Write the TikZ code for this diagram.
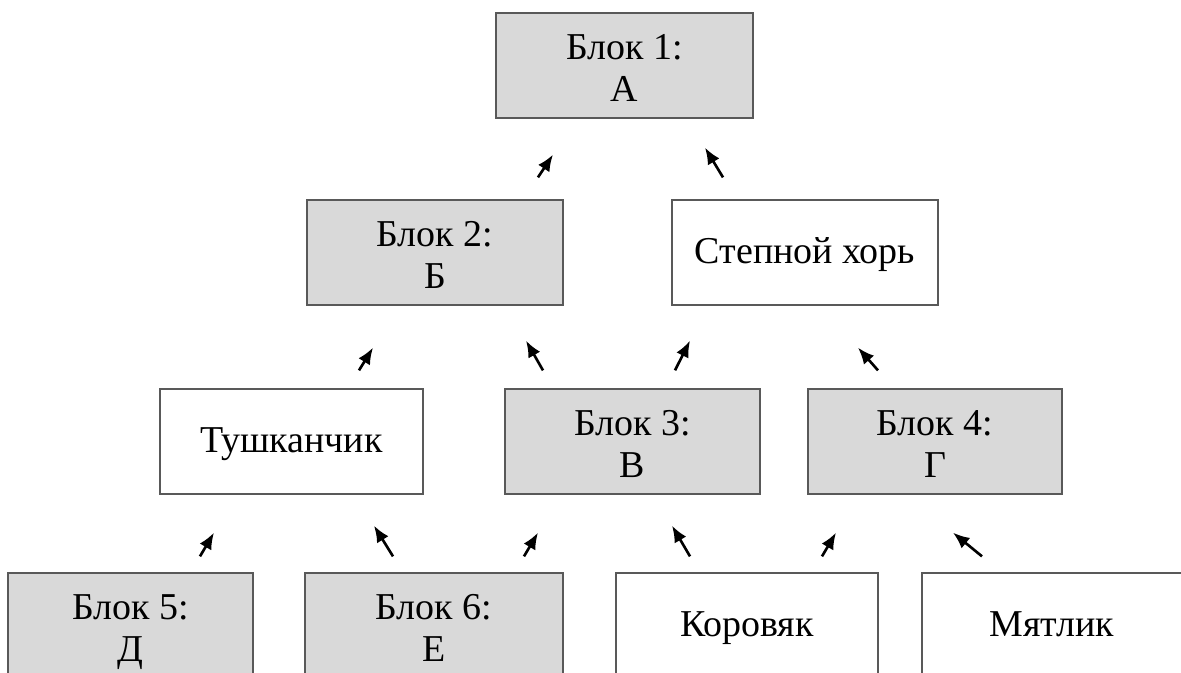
\documentclass[tikz,border=0pt]{standalone}
\usepackage{fontspec}
\setmainfont{Liberation Serif}
\usepackage{tikz}
\usetikzlibrary{arrows.meta,positioning}

\begin{document}
\begin{tikzpicture}[x=0.02cm, y=-0.02cm,
        box/.style={draw=black!65, line width=0.75pt, rectangle, minimum height=2.1cm, inner sep=0pt, align=center, font=\fontsize{21.6}{24}\selectfont},
        block/.style={box, fill=black!15, execute at begin node={\rule[-5pt]{0pt}{51.4pt}}},
        organism/.style={box, fill=white, execute at begin node={\rule[-5pt]{0pt}{23pt}}},
        arr/.style={line width=1.5pt, -{Latex[length=0.33cm, width=0.27cm]}}]
        \useasboundingbox (0,0) rectangle (1181,673);
        \clip (0,0) rectangle (1181,673);

        % Top level
        \node[block, minimum width=5.14cm] at (624.5,65.5) (b1) {Блок 1:\\А};

        % Second level
        \node[block, minimum width=5.12cm] at (435,252.5) (b2) {Блок 2:\\Б};
        \node[organism, minimum width=5.32cm] at (805,252.5) (khor) {Степной хорь};

        % Third level
        \node[organism, minimum width=5.26cm] at (291.5,441.5) (tush) {Тушканчик};
        \node[block, minimum width=5.1cm] at (632.5,441.5) (b3) {Блок 3:\\В};
        \node[block, minimum width=5.08cm] at (935,441.5) (b4) {Блок 4:\\Г};

        % Bottom level
        \node[block, minimum width=4.9cm] at (130.5,625.5) (b5) {Блок 5:\\Д};
        \node[block, minimum width=5.16cm] at (434,625.5) (b6) {Блок 6:\\Е};
        \node[organism, minimum width=5.24cm] at (747,625.5) (korov) {Коровяк};
        \node[organism, minimum width=5.2cm] at (1052,625.5) (myatl) {Мятлик};

        % Arrows to top level
        \draw[arr] ([shift={(103,-22)}]b2.north) -- ([shift={(-71.5,36)}]b1.south);
        \draw[arr] ([shift={(-82,-22)}]khor.north) -- ([shift={(80.5,29)}]b1.south);

        % Arrows to second level
        \draw[arr] ([shift={(67.5,-18)}]tush.north) -- ([shift={(-62,42)}]b2.south);
        \draw[arr] ([shift={(-89.5,-18)}]b3.north) -- ([shift={(91,35)}]b2.south);
        \draw[arr] ([shift={(42.5,-18)}]b3.north) -- ([shift={(-115,35)}]khor.south);
        \draw[arr] ([shift={(-57,-18)}]b4.north) -- ([shift={(53,42)}]khor.south);

        % Arrows to third level
        \draw[arr] ([shift={(69.5,-16)}]b5.north) -- ([shift={(-77.5,38)}]tush.south);
        \draw[arr] ([shift={(-41,-16)}]b6.north) -- ([shift={(82.5,31)}]tush.south);
        \draw[arr] ([shift={(90,-16)}]b6.north) -- ([shift={(-94.5,38)}]b3.south);
        \draw[arr] ([shift={(-57,-16)}]korov.north) -- ([shift={(39.5,31)}]b3.south);
        \draw[arr] ([shift={(75,-16)}]korov.north) -- ([shift={(-99,38)}]b4.south);
        \draw[arr] ([shift={(-70,-16)}]myatl.north) -- ([shift={(18,38)}]b4.south);
\end{tikzpicture}
\end{document}
